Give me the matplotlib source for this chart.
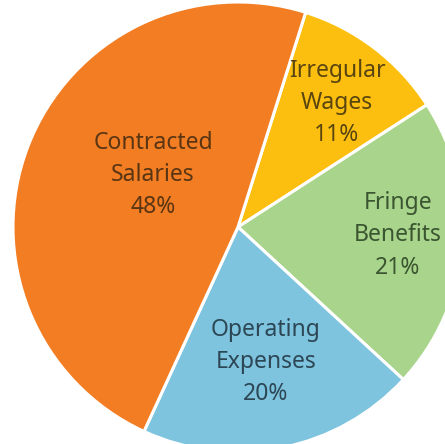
import matplotlib.pyplot as plt

# budget split, clockwise from the top
categories = ['Irregular\nWages', 'Fringe\nBenefits', 'Operating\nExpenses', 'Contracted\nSalaries']
shares = [11, 21, 20, 48]

colors = ['#FDBF0F', '#A9D48C', '#7EC4DF', '#F27D22']
text_colors = ['#584510', '#3A5530', '#2C4654', '#5A3514']
label_pos = [(0.44, 0.551), (0.711, -0.036), (0.124, -0.60), (-0.378, 0.231)]

fig = plt.figure(figsize=(4.45, 4.44), dpi=100)
ax = fig.add_axes([0, 0, 1, 1])

wedges, _ = ax.pie(shares, colors=colors, startangle=72.5, counterclock=False,
                   radius=1.0, wedgeprops=dict(edgecolor='white', linewidth=2.2))

for cat, val, pos, tc in zip(categories, shares, label_pos, text_colors):
    ax.text(pos[0], pos[1], f'{cat}\n{val}%', ha='center', va='center',
            fontsize=16.5, color=tc, family='Noto Sans', linespacing=1.47)

ax.set_xlim(-238 / 225, (445 - 238) / 225)
ax.set_ylim(-(444 - 227) / 225, 227 / 225)
ax.set_aspect('auto')
ax.axis('off')

fig.savefig('out.png', dpi=100)
